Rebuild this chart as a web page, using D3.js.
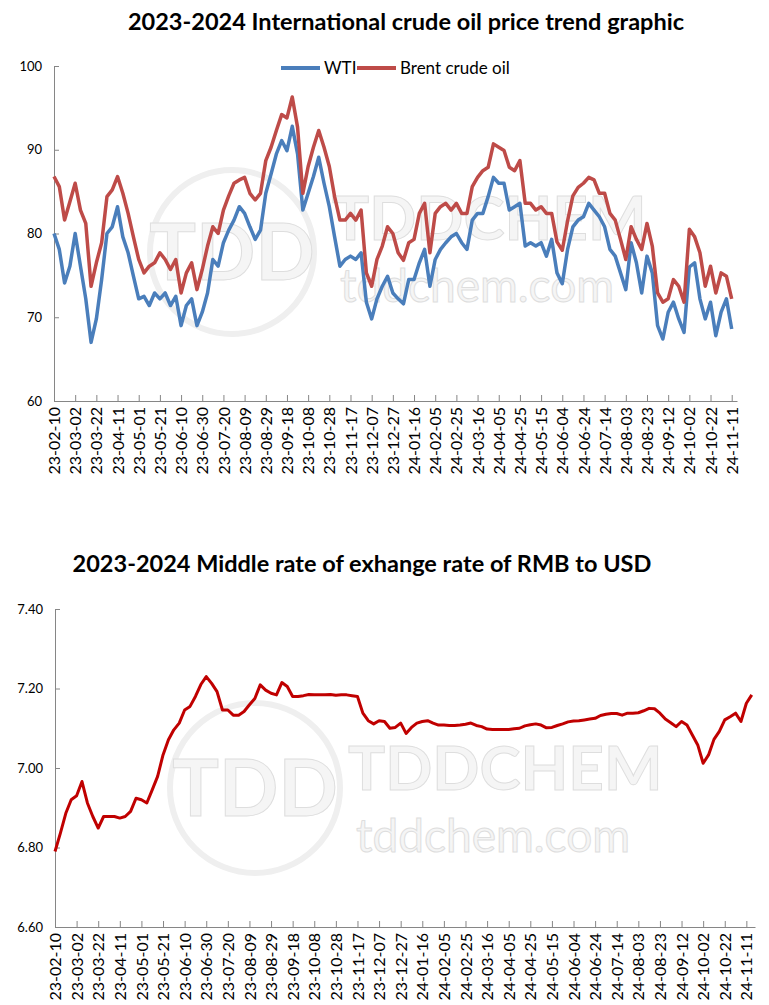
<!DOCTYPE html>
<html>
<head>
<meta charset="utf-8">
<script src="https://cdn.jsdelivr.net/npm/d3@7"></script>
<style>
  body { margin: 0; background: #fff; }
  svg { display: block; font-family: Lato, "Open Sans", sans-serif; }
  .axis path, .axis line { stroke: #868686; }
  .axis text { fill: #000; font-size: 13px; font-family: Lato, "Open Sans", sans-serif; }
  .wm { fill: #f5f5f5; stroke: #dedede; stroke-width: 1; }
  .title { font-weight: bold; font-size: 23.5px; }
</style>
</head>
<body>
<svg width="769" height="1005"></svg>
<script>
var tickLabels = ["23-02-10", "23-03-02", "23-03-22", "23-04-11", "23-05-01", "23-05-21", "23-06-10",
  "23-06-30", "23-07-20", "23-08-09", "23-08-29", "23-09-18", "23-10-08", "23-10-28", "23-11-17",
  "23-12-07", "23-12-27", "24-01-16", "24-02-05", "24-02-25", "24-03-16", "24-04-05", "24-04-25",
  "24-05-15", "24-06-04", "24-06-24", "24-07-14", "24-08-03", "24-08-23", "24-09-12", "24-10-02",
  "24-10-22", "24-11-11"];

// one reading every 5 calendar days from 23-02-10
var stepDays = 5;

var wti = [80.0, 78.1, 74.1, 76.1, 80.0, 76.1, 72.2, 67.0, 69.8, 74.5,
  80.0, 80.8, 83.2, 79.6, 77.7, 74.9, 72.2, 72.5, 71.4, 72.9,
  72.2, 72.9, 71.4, 72.5, 69.0, 71.4, 72.2, 69.0, 70.6, 72.9,
  76.9, 76.1, 78.9, 80.4, 81.6, 83.2, 82.4, 80.8, 79.3, 80.4,
  84.8, 87.1, 89.5, 91.1, 89.9, 92.8, 89.5, 82.8, 84.8, 86.8,
  89.1, 86.0, 83.2, 79.6, 76.1, 76.9, 77.3, 76.9, 77.7, 71.8,
  69.8, 72.2, 73.7, 74.9, 72.9, 72.2, 71.6, 74.5, 74.5, 76.5,
  78.1, 73.7, 76.9, 78.1, 78.9, 79.6, 80.0, 78.9, 78.1, 81.6,
  82.4, 82.4, 84.4, 86.7, 86.0, 86.0, 82.8, 83.2, 83.6, 78.5,
  78.9, 78.5, 78.9, 77.3, 79.3, 75.3, 74.0, 78.1, 80.8, 81.6,
  82.0, 83.6, 82.8, 82.0, 80.8, 78.1, 77.3, 75.3, 73.3, 78.9,
  76.5, 72.9, 77.3, 75.3, 69.0, 67.4, 70.6, 71.8, 69.8, 68.2,
  76.0, 76.5, 72.2, 69.8, 71.8, 67.8, 70.6, 72.2, 68.6];

var brent = [86.8, 85.6, 81.6, 83.8, 86.0, 82.8, 81.2, 73.7, 76.5, 78.9,
  84.4, 85.2, 86.8, 84.8, 82.4, 79.6, 76.9, 75.3, 76.1, 76.5,
  77.7, 76.9, 75.7, 76.9, 72.9, 75.3, 76.5, 73.3, 75.7, 78.5,
  80.8, 80.0, 82.8, 84.5, 86.0, 86.4, 86.7, 84.8, 84.0, 84.8,
  88.7, 90.3, 92.3, 94.2, 93.8, 96.3, 92.7, 84.8, 88.0, 90.3,
  92.3, 90.3, 88.0, 84.4, 81.6, 81.6, 82.4, 81.6, 82.8, 75.3,
  73.7, 76.9, 78.5, 80.8, 80.0, 77.7, 76.8, 78.9, 79.3, 82.4,
  83.6, 77.7, 82.4, 83.2, 83.6, 82.8, 83.6, 82.4, 82.4, 85.6,
  86.7, 87.5, 87.9, 90.7, 90.3, 89.9, 87.9, 87.5, 88.7, 83.6,
  83.6, 82.8, 83.2, 82.4, 82.4, 79.0, 78.0, 81.5, 84.5, 85.5,
  86.0, 86.7, 86.4, 84.8, 84.8, 82.4, 81.6, 79.3, 76.9, 80.8,
  79.3, 78.1, 81.2, 78.5, 72.9, 71.8, 72.2, 74.5, 73.7, 71.8,
  80.5, 79.6, 77.7, 73.7, 76.1, 72.9, 75.3, 74.9, 72.2];

var rmb = [6.790, 6.836, 6.886, 6.920, 6.930, 6.966, 6.912, 6.878, 6.849, 6.878,
  6.878, 6.878, 6.874, 6.878, 6.891, 6.924, 6.920, 6.912, 6.945, 6.979,
  7.033, 7.071, 7.096, 7.113, 7.146, 7.155, 7.180, 7.210, 7.230, 7.213,
  7.192, 7.146, 7.146, 7.133, 7.133, 7.142, 7.159, 7.175, 7.209, 7.196,
  7.188, 7.184, 7.215, 7.205, 7.180, 7.180, 7.182, 7.185, 7.184, 7.184,
  7.184, 7.185, 7.183, 7.184, 7.184, 7.182, 7.180, 7.138, 7.119, 7.111,
  7.119, 7.117, 7.100, 7.102, 7.113, 7.087, 7.102, 7.113, 7.117, 7.119,
  7.113, 7.108, 7.108, 7.107, 7.107, 7.108, 7.110, 7.113, 7.107, 7.104,
  7.098, 7.097, 7.097, 7.097, 7.097, 7.099, 7.100, 7.106, 7.109, 7.111,
  7.108, 7.101, 7.102, 7.107, 7.111, 7.116, 7.118, 7.119, 7.121, 7.123,
  7.125, 7.132, 7.135, 7.137, 7.137, 7.133, 7.138, 7.138, 7.139, 7.144,
  7.150, 7.149, 7.138, 7.123, 7.114, 7.104, 7.117, 7.108, 7.083, 7.058,
  7.012, 7.033, 7.072, 7.092, 7.121, 7.129, 7.138, 7.117, 7.163, 7.184];

var parse = d3.utcParse("%y-%m-%d");
var start = parse(tickLabels[0]);
var tickDates = tickLabels.map(parse);

function toPoints(arr) {
  return arr.map(function(v, i) { return { date: d3.utcDay.offset(start, i * stepDays), value: v }; });
}

var svg = d3.select("svg");

// watermark, drawn first so the lines sit on top
function watermark(cx, cy, r, tx, ty) {
  var wm = svg.append("g").attr("class", "wm-group");
  wm.append("circle").attr("cx", cx).attr("cy", cy).attr("r", r)
      .attr("fill", "none").attr("stroke", "#efefef").attr("stroke-width", 6);
  wm.append("text").attr("class", "wm").attr("x", cx).attr("y", cy + 28)
      .attr("text-anchor", "middle").style("font-size", "78px").style("font-weight", "bold")
      .text("TDD");
  wm.append("text").attr("class", "wm").attr("x", tx).attr("y", ty)
      .style("font-size", "62px").style("font-weight", "bold").text("TDDCHEM");
  wm.append("text").attr("class", "wm").attr("x", tx + 8).attr("y", ty + 62)
      .style("font-size", "46px").text("tddchem.com");
}
watermark(232, 252, 82, 332, 240);
watermark(255, 788, 85, 348, 790);

function xAxis(g, x, y0) {
  g.attr("class", "axis").attr("transform", "translate(0," + y0 + ")")
    .call(d3.axisBottom(x).tickValues(tickDates).tickSizeInner(-6).tickSizeOuter(0)
      .tickFormat(function(d, i) { return tickLabels[i]; }));
  g.selectAll(".tick text")
      .attr("transform", "rotate(-90)")
      .attr("x", -6).attr("y", 0).attr("dy", "0.35em")
      .style("text-anchor", "end")
      .style("font-size", "16px");
}

function yAxis(g, y, x0, vals, fmt) {
  g.attr("class", "axis").attr("transform", "translate(" + x0 + ",0)")
    .call(d3.axisLeft(y).tickValues(vals).tickSizeInner(-5).tickSizeOuter(0).tickPadding(12).tickFormat(fmt));
}

// ---- chart 1: crude oil
var x1 = d3.scaleUtc().domain([start, d3.utcDay.offset(start, 645)]).range([54, 737]);
var y1 = d3.scaleLinear().domain([60, 100]).range([401, 66]);

svg.append("text").attr("class", "title").attr("x", 406).attr("y", 30)
    .attr("text-anchor", "middle")
    .text("2023-2024 International crude oil price trend graphic");

svg.append("g").call(yAxis, y1, 54, [60, 70, 80, 90, 100], d3.format("d"));
svg.append("g").call(xAxis, x1, 401);

var line1 = d3.line().x(function(d) { return x1(d.date); }).y(function(d) { return y1(d.value); });

svg.append("path").datum(toPoints(wti))
    .attr("fill", "none").attr("stroke", "#4a7ebb").attr("stroke-width", 3.5)
    .attr("stroke-linejoin", "round").attr("d", line1);
svg.append("path").datum(toPoints(brent))
    .attr("fill", "none").attr("stroke", "#be4b48").attr("stroke-width", 3.5)
    .attr("stroke-linejoin", "round").attr("d", line1);

// legend
var legend = [{ name: "WTI", color: "#4a7ebb", x: 281 }, { name: "Brent crude oil", color: "#be4b48", x: 357 }];
var lg = svg.append("g").selectAll("g").data(legend).enter().append("g")
    .attr("transform", function(d) { return "translate(" + d.x + ",68)"; });
lg.append("line").attr("x1", 0).attr("x2", 39).attr("stroke", function(d) { return d.color; })
    .attr("stroke-width", 4);
lg.append("text").attr("x", 43).attr("dy", "0.35em").style("font-size", "17px").text(function(d) { return d.name; });

// ---- chart 2: RMB / USD
var x2 = d3.scaleUtc().domain([start, d3.utcDay.offset(start, 648)]).range([55, 755]);
var y2 = d3.scaleLinear().domain([6.6, 7.4]).range([927, 609]);

svg.append("text").attr("class", "title").attr("x", 362).attr("y", 572)
    .attr("text-anchor", "middle")
    .text("2023-2024 Middle rate of exhange rate of RMB to USD");

svg.append("g").call(yAxis, y2, 55, [6.6, 6.8, 7.0, 7.2, 7.4], d3.format(".2f"));
svg.append("g").call(xAxis, x2, 927);

var line2 = d3.line().x(function(d) { return x2(d.date); }).y(function(d) { return y2(d.value); });
svg.append("path").datum(toPoints(rmb))
    .attr("fill", "none").attr("stroke", "#c00000").attr("stroke-width", 3)
    .attr("stroke-linejoin", "round").attr("d", line2);
</script>
</body>
</html>
